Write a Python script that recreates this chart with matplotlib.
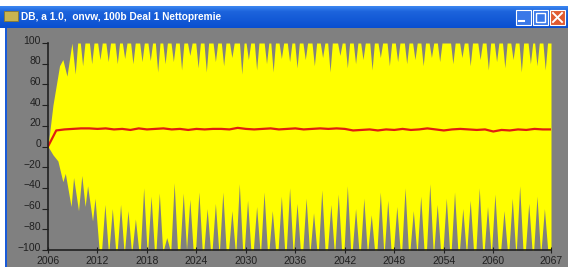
import numpy as np
import matplotlib
matplotlib.use('Agg')
from matplotlib import pyplot as plt
from matplotlib.patches import Rectangle
import matplotlib.transforms as mtransforms

title = "DB, a 1.0,  onvw, 100b Deal 1 Nettopremie"

# mean (red) line, one value per year 2006..2067
years = np.arange(2006, 2068)
mean_vals = [0, 15.5, 16.5, 17, 17.5, 17.5, 17, 17.5, 16.5, 17,
             16, 17.5, 16.5, 17, 17.5, 16.5, 17, 16, 17, 16.5,
             17, 17, 16.5, 18, 17, 16.5, 17, 17.5, 16.5, 17,
             17.5, 16.5, 17, 17.5, 17, 17.5, 17, 15.5, 16, 16.5,
             15.5, 16.5, 16, 17, 16, 16.5, 17.5, 16.5, 15.5, 16.5,
             17, 16.5, 16, 16.5, 14.5, 16, 15.5, 16.5, 16, 17,
             16.5, 16.5]

# upper edge of the yellow simulation band
top_start_x = [2006.0, 2006.6, 2007.4, 2007.8, 2008.3, 2008.9, 2009.3, 2009.6]
top_start_y = [0, 40, 78, 84, 68, 100, 70, 100]
top_notch_x = [2010.2, 2011.3, 2012.3, 2013.3, 2014.4, 2015.3, 2016.3, 2017.4,
               2018.4, 2019.3, 2020.2, 2021.2, 2022.2, 2023.2, 2024.2, 2025.2,
               2026.3, 2027.3, 2028.3, 2029.5, 2030.3, 2031.3, 2032.5, 2033.3,
               2034.3, 2035.3, 2036.2, 2037.2, 2038.3, 2039.3, 2040.2, 2041.4,
               2042.3, 2043.3, 2044.2, 2045.3, 2046.3, 2047.4, 2048.4, 2049.5,
               2050.5, 2051.5, 2052.5, 2053.5, 2055.1, 2056.2, 2057.2, 2058.4,
               2059.4, 2060.4, 2061.4, 2062.4, 2063.4, 2064.5, 2065.3, 2066.3]
top_notch_y = [78, 80, 84, 82, 80, 85, 80, 82, 83, 72, 80, 82, 74, 88, 76, 72,
               82, 78, 86, 70, 84, 74, 80, 72, 85, 82, 76, 84, 78, 86, 72, 88,
               76, 80, 84, 74, 86, 78, 82, 80, 84, 78, 86, 82, 80, 86, 78, 84,
               74, 82, 76, 84, 72, 80, 78, 74]

# lower edge of the yellow simulation band
bot_start_x = [2006.0, 2006.6, 2007.2, 2007.8, 2008.1, 2008.8, 2009.1, 2009.7,
               2010.1, 2010.5, 2010.8, 2011.4, 2011.7, 2012.2]
bot_start_y = [0, -8, -14, -34, -26, -58, -30, -62, -28, -58, -38, -72, -50, -100]
bot_notch_x = [2012.9, 2013.8, 2014.8, 2015.7, 2016.6, 2017.6, 2018.5, 2019.5,
               2020.4, 2021.3, 2022.4, 2023.2, 2024.3, 2025.3, 2026.3, 2027.2,
               2028.3, 2029.2, 2030.2, 2031.3, 2032.2, 2033.2, 2034.3, 2035.3,
               2036.2, 2037.3, 2038.2, 2039.2, 2040.3, 2041.2, 2042.3, 2043.3,
               2044.3, 2045.2, 2046.3, 2047.2, 2048.3, 2049.3, 2050.3, 2051.2,
               2052.3, 2053.2, 2054.3, 2055.3, 2056.3, 2057.2, 2058.3, 2059.3,
               2060.2, 2061.3, 2062.3, 2063.2, 2064.3, 2065.3, 2066.2]
bot_notch_y = [-56, -60, -56, -62, -70, -40, -48, -45, -88, -35, -45, -51, -44,
               -60, -55, -44, -62, -36, -52, -58, -44, -62, -48, -40, -55, -50,
               -64, -42, -56, -46, -38, -60, -50, -66, -44, -52, -58, -40, -62,
               -48, -36, -56, -50, -44, -60, -52, -40, -58, -46, -62, -50, -38,
               -55, -48, -60]

x_ticks = [2006, 2012, 2018, 2024, 2030, 2036, 2042, 2048, 2054, 2060, 2067]
y_ticks = [-100, -80, -60, -40, -20, 0, 20, 40, 60, 80, 100]


def envelope(sx, sy, nx, ny, edge, half):
    xs, ys = list(sx), list(sy)
    for a, b in zip(nx, ny):
        xs += [a - half, a, a + half]
        ys += [edge, b, edge]
    xs.append(2067)
    ys.append(edge)
    return xs, ys


W, H = 568, 267
fig = plt.figure(figsize=(W / 100, H / 100), dpi=100, facecolor='white')

# window chrome, drawn in pixel coords
chrome = fig.add_axes([0, 0, 1, 1])
chrome.set_xlim(0, W)
chrome.set_ylim(H, 0)
chrome.axis('off')
grad = np.linspace(0, 1, 40).reshape(-1, 1)
grad = np.where(grad < 0.25, 1 - grad * 2, 0.5 - (grad - 0.25) * 0.4)
chrome.imshow(grad, cmap=matplotlib.colors.LinearSegmentedColormap.from_list(
    'xp', ['#0a4fd0', '#3b86f0']), extent=(0, W, 28, 6), aspect='auto')
chrome.add_patch(Rectangle((5, 28), W - 5, H - 28, color='#808080', lw=0))
chrome.add_patch(Rectangle((5, 28), 2, H - 28, color='#1a5ad8', lw=0))
chrome.add_patch(Rectangle((4, 11), 14, 10, facecolor='#c8b450',
                           edgecolor='#8a7a30', lw=0.6))
chrome.text(21, 17, title, color='white', fontsize=7.3, fontweight='bold',
            family='Liberation Sans', va='center', ha='left')
for bx, col in [(516, '#3a78e8'), (533, '#3a78e8'), (550, '#e05a30')]:
    chrome.add_patch(Rectangle((bx, 10), 15, 15, facecolor=col,
                               edgecolor='white', lw=0.8))
chrome.plot([519, 524], [21, 21], color='white', lw=1.5)
chrome.add_patch(Rectangle((536, 13), 9, 9, fill=False, edgecolor='white', lw=1))
chrome.plot([553, 562], [13, 22], color='white', lw=1.4)
chrome.plot([553, 562], [22, 13], color='white', lw=1.4)

# chart
ax = fig.add_axes([48 / W, (H - 250) / H, 503 / W, 207 / H])
ax.set_facecolor('#808080')

tx, ty = envelope(top_start_x, top_start_y, top_notch_x, top_notch_y, 100, 0.28)
bx, by = envelope(bot_start_x, bot_start_y, bot_notch_x, bot_notch_y, -100, 0.4)
ax.fill_between(tx, 0, ty, color='#ffff00', lw=0)
ax.fill_between(bx, by, 0, color='#ffff00', lw=0)
ax.plot(years, mean_vals, color='#e01e10', lw=1.6)

ax.set_xlim(2006, 2067)
ax.set_ylim(-100, 100)
ax.set_xticks(x_ticks)
ax.set_yticks(y_ticks)
for s in ['top', 'right']:
    ax.spines[s].set_visible(False)
for s in ['left', 'bottom']:
    ax.spines[s].set_color('#202020')
    ax.spines[s].set_linewidth(1.2)
ax.tick_params(axis='y', direction='out', length=4, pad=1, colors='#202020',
               labelsize=7.5)
ax.tick_params(axis='x', direction='inout', length=5, pad=2, colors='#202020',
               labelsize=7.5)
off = mtransforms.ScaledTranslation(0, 2.5 / 72, fig.dpi_scale_trans)
for lab in ax.get_yticklabels():
    lab.set_transform(lab.get_transform() + off)
    lab.set_family('Liberation Sans')
for lab in ax.get_xticklabels():
    lab.set_family('Liberation Sans')

fig.savefig('out.png', dpi=100, facecolor='white')
